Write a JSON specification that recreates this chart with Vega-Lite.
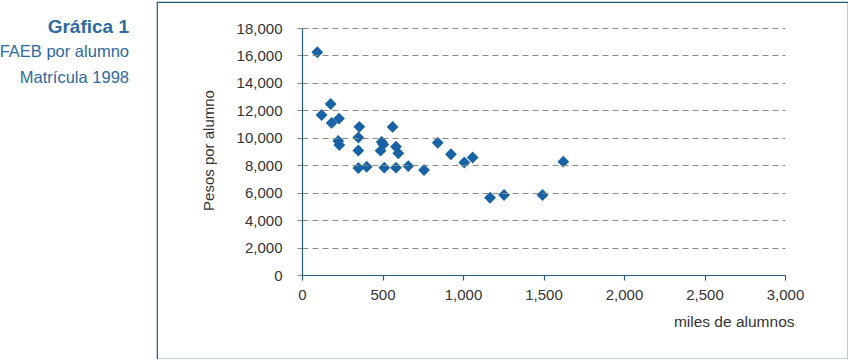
{
  "$schema": "https://vega.github.io/schema/vega-lite/v6.json",
  "autosize": {"type": "none"},
  "padding": {"left": 157, "top": 2, "right": 0, "bottom": 0},
  "width": 691,
  "height": 357,
  "background": "white",
  "config": {
    "view": {"stroke": "#1f5c7a", "strokeWidth": 1.2},
    "font": "Liberation Sans"
  },
  "title": {
    "text": "Gráfica 1",
    "subtitle": ["FAEB por alumno", "Matrícula 1998"],
    "anchor": "start",
    "frame": "group",
    "align": "right",
    "dx": -28,
    "offset": -84,
    "font": "Liberation Sans",
    "fontSize": 19,
    "fontWeight": "bold",
    "color": "#2d6aa0",
    "subtitleFont": "Liberation Sans",
    "subtitleFontSize": 16.5,
    "subtitleColor": "#2d6aa0",
    "subtitleLineHeight": 25.5,
    "subtitlePadding": 7
  },
  "data": {
    "values": [
      {"alumnos": 95, "pesos": 16230},
      {"alumnos": 178, "pesos": 12460},
      {"alumnos": 122, "pesos": 11660},
      {"alumnos": 184, "pesos": 11080},
      {"alumnos": 230, "pesos": 11400},
      {"alumnos": 356, "pesos": 10800},
      {"alumnos": 563, "pesos": 10790},
      {"alumnos": 225, "pesos": 9770},
      {"alumnos": 232, "pesos": 9470},
      {"alumnos": 350, "pesos": 10020},
      {"alumnos": 350, "pesos": 9070},
      {"alumnos": 495, "pesos": 9690},
      {"alumnos": 505, "pesos": 9510},
      {"alumnos": 488, "pesos": 9060},
      {"alumnos": 584, "pesos": 9350},
      {"alumnos": 598, "pesos": 8870},
      {"alumnos": 350, "pesos": 7800},
      {"alumnos": 402, "pesos": 7890},
      {"alumnos": 511, "pesos": 7820},
      {"alumnos": 584, "pesos": 7820},
      {"alumnos": 660, "pesos": 7940},
      {"alumnos": 758, "pesos": 7650},
      {"alumnos": 843, "pesos": 9640},
      {"alumnos": 925, "pesos": 8800},
      {"alumnos": 1008, "pesos": 8200},
      {"alumnos": 1060, "pesos": 8560},
      {"alumnos": 1168, "pesos": 5630},
      {"alumnos": 1255, "pesos": 5830},
      {"alumnos": 1494, "pesos": 5830},
      {"alumnos": 1623, "pesos": 8260}
    ]
  },
  "mark": {"type": "point", "shape": "diamond", "filled": true, "size": 140, "color": "#1763a6", "opacity": 1},
  "encoding": {
    "x": {
      "field": "alumnos",
      "type": "quantitative",
      "scale": {"domain": [0, 3000], "range": [145, 628], "nice": false},
      "axis": {
        "orient": "bottom",
        "offset": -84,
        "values": [0, 500, 1000, 1500, 2000, 2500, 3000],
        "format": ",d",
        "grid": false,
        "domainColor": "#245f7e",
        "domainWidth": 1.2,
        "tickColor": "#245f7e",
        "tickSize": 5,
        "tickWidth": 1.2,
        "labelFont": "Liberation Sans",
        "labelFontSize": 15,
        "labelColor": "#333333",
        "labelPadding": 7,
        "labelFlush": false,
        "title": "miles de alumnos",
        "titleFont": "Liberation Sans",
        "titleFontSize": 15.5,
        "titleFontWeight": "normal",
        "titleColor": "#333333",
        "titleAlign": "right",
        "titleAnchor": null,
        "titleBaseline": "alphabetic",
        "titleX": 637,
        "titleY": 51,
        "zindex": 1
      }
    },
    "y": {
      "field": "pesos",
      "type": "quantitative",
      "scale": {"domain": [0, 18000], "range": [273, 26], "nice": false},
      "axis": {
        "orient": "left",
        "offset": -145,
        "values": [0, 2000, 4000, 6000, 8000, 10000, 12000, 14000, 16000, 18000],
        "format": ",d",
        "grid": true,
        "gridColor": "#8a8a8a",
        "gridDash": [6, 4],
        "gridWidth": 1,
        "domainColor": "#245f7e",
        "domainWidth": 1.2,
        "tickColor": "#8a8a8a",
        "tickSize": 5,
        "labelFont": "Liberation Sans",
        "labelFontSize": 15,
        "labelColor": "#333333",
        "labelPadding": 15,
        "labelFlush": false,
        "title": "Pesos por alumno",
        "titleFont": "Liberation Sans",
        "titleFontSize": 15,
        "titleFontWeight": "normal",
        "titleColor": "#333333",
        "titleAngle": -90,
        "titleBaseline": "middle",
        "titleX": -94,
        "titleY": 148,
        "zindex": 1
      }
    }
  }
}
